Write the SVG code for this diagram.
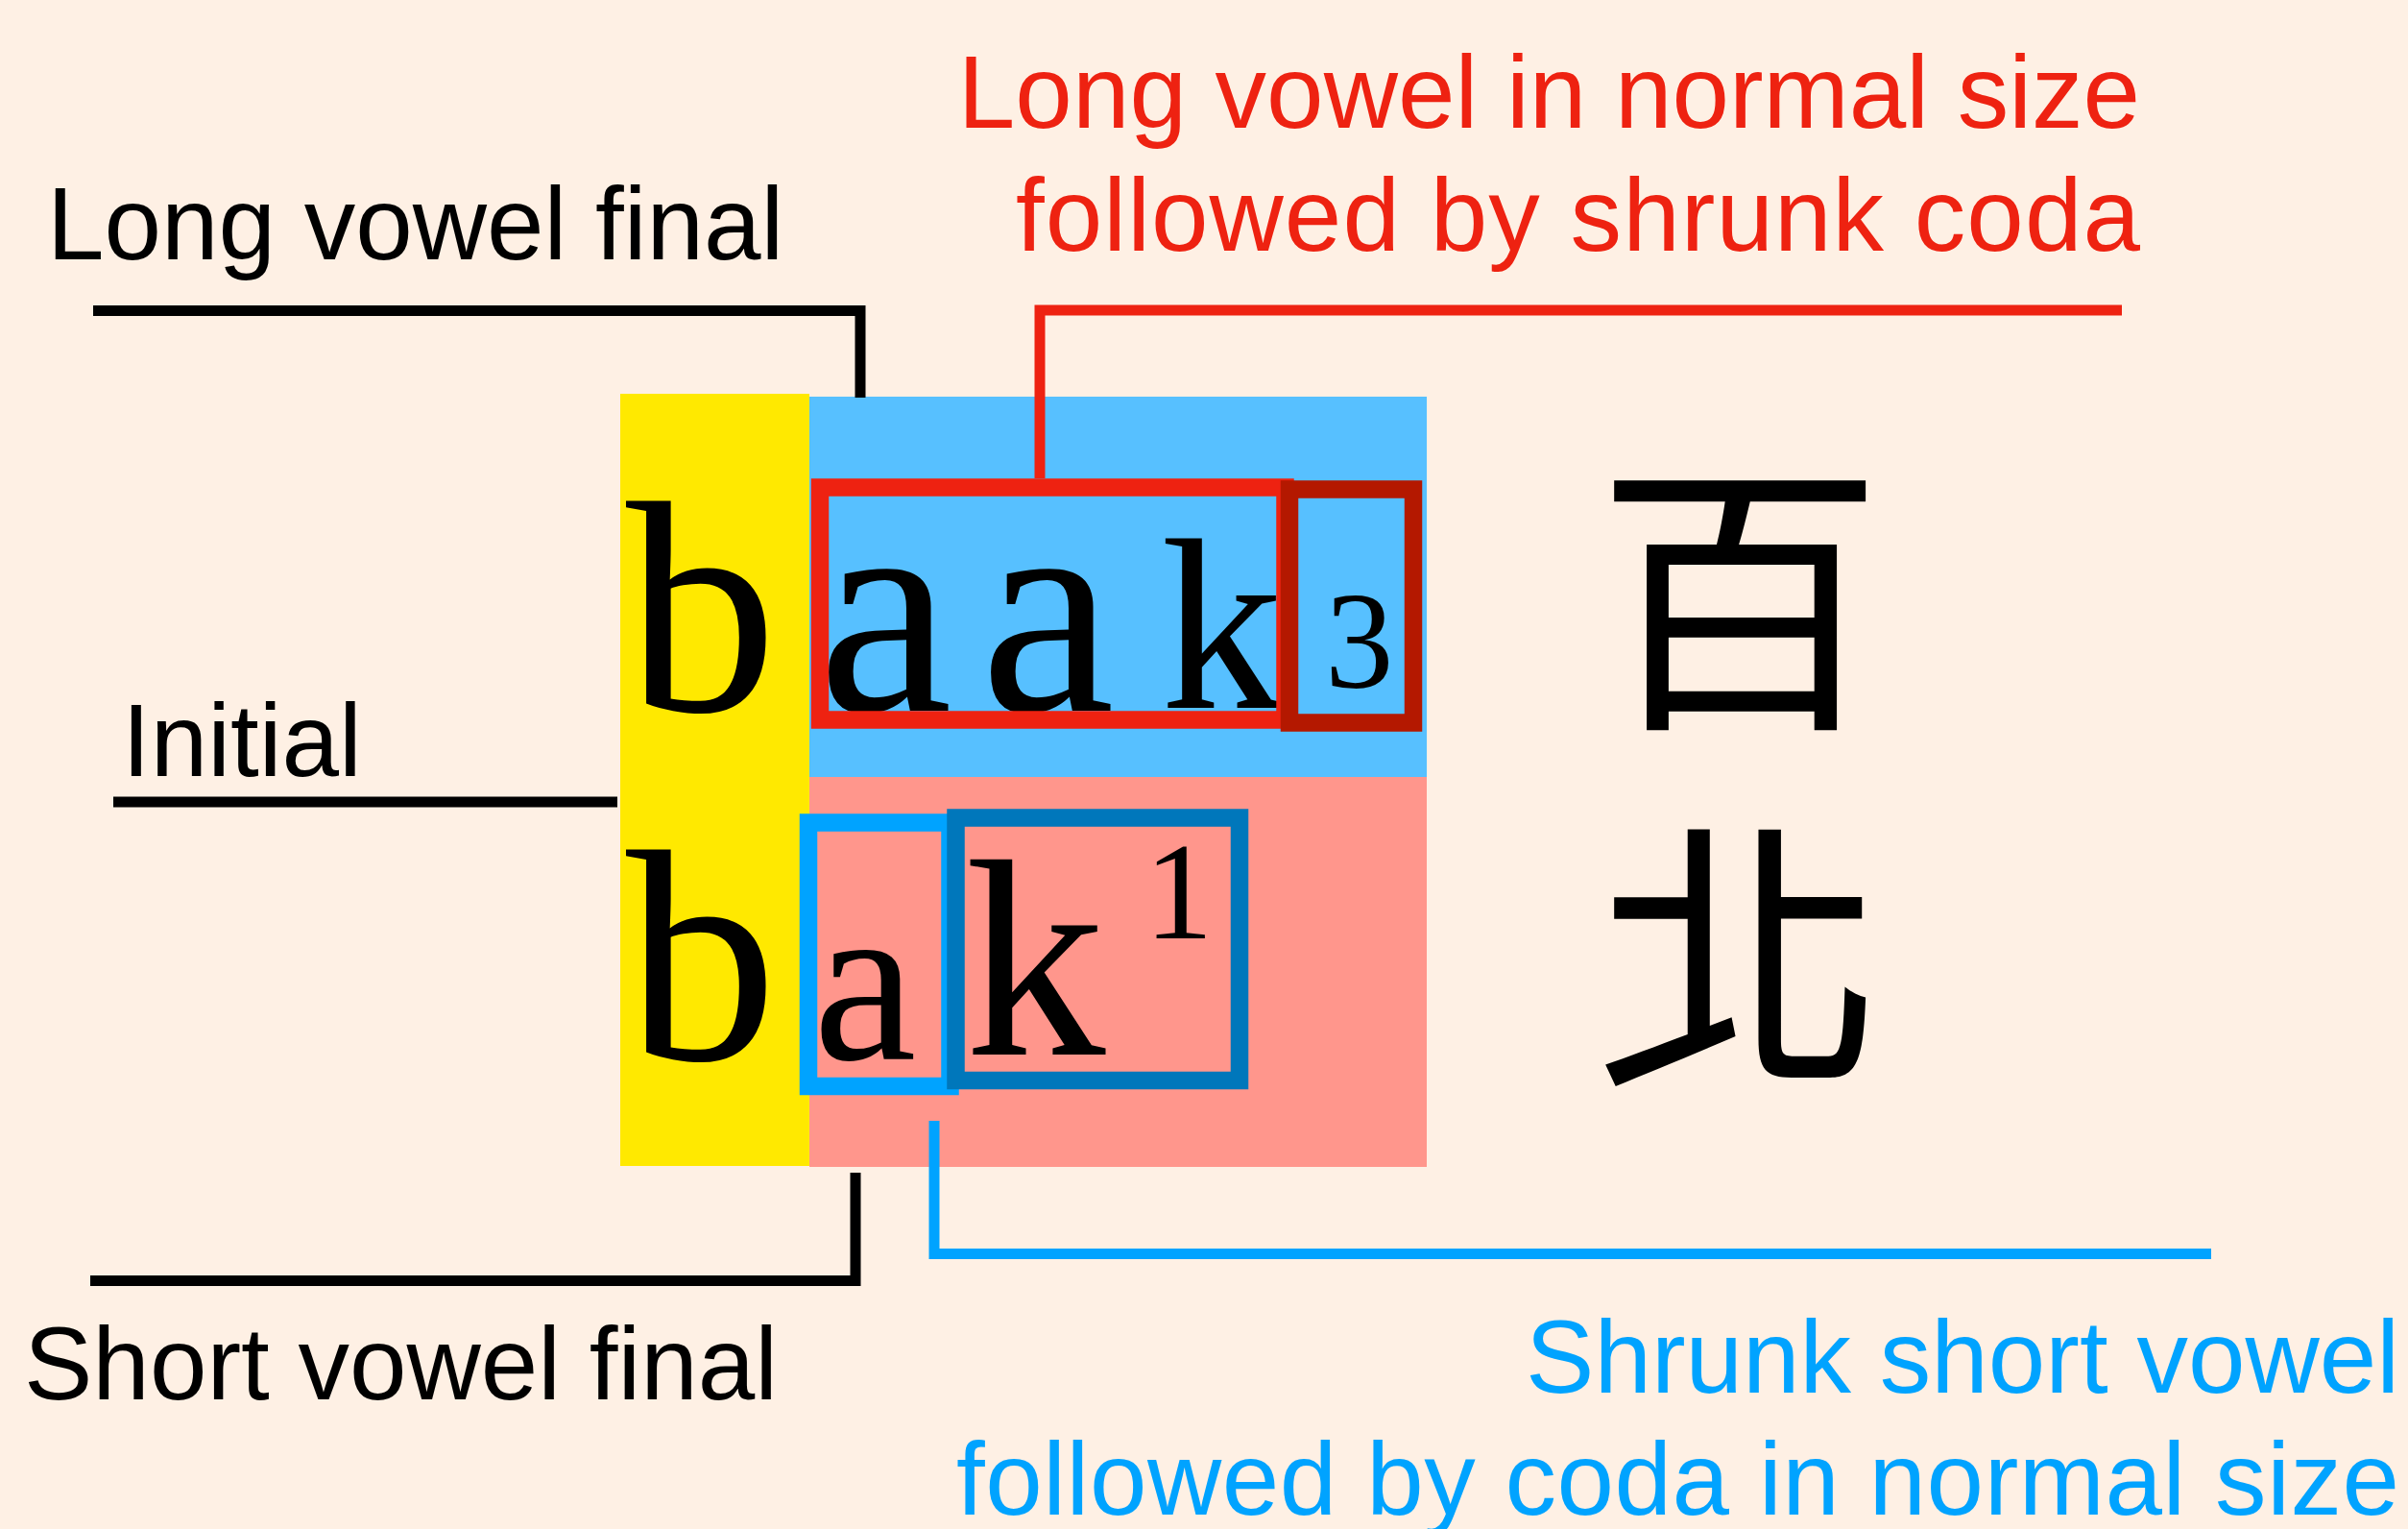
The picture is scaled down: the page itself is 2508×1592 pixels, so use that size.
<svg xmlns="http://www.w3.org/2000/svg" width="2508" height="1592" viewBox="0 0 2508 1592">
<style>
.lbl{font-family:"Liberation Sans",Arial,sans-serif;font-size:107px}
.gl{font-family:"Liberation Serif","Times New Roman",serif;fill:#000}
.cjk{font-family:"Noto Sans CJK TC","Noto Sans CJK KR",sans-serif;font-size:300px;fill:#000}
.box{fill:none;stroke-width:18.5}
.con{fill:none;stroke-width:11;stroke-linecap:butt;stroke-linejoin:miter}
</style>
<rect x="0" y="0" width="2508" height="1592" fill="#FEF0E4"/>
<g id="initial-column">
<rect x="646" y="410" width="197" height="804" fill="#FFE900"/>
<text class="gl" x="652" y="740" font-size="315">b</text>
<text class="gl" x="652" y="1103" font-size="315">b</text>
</g>
<g id="row-long">
<rect x="843" y="413" width="643" height="397" fill="#57C0FF"/>
<text class="gl" x="852" y="740" font-size="315">a</text>
<text class="gl" x="1021" y="740" font-size="315">a</text>
<text class="gl" x="1209" y="737" font-size="255">k</text>
<text class="gl" x="1380" y="716" font-size="143">3</text>
</g>
<g id="row-short">
<rect x="843" y="809" width="643" height="406" fill="#FF968C"/>
<text class="gl" x="847" y="1103" font-size="242">a</text>
<text class="gl" x="1005" y="1098" font-size="293">k</text>
<text class="gl" x="1192" y="977" font-size="143">1</text>
</g>
<g id="box-long-vowel"><rect class="box" x="854" y="507.5" width="484.5" height="242" stroke="#EE2211"/></g>
<g id="box-shrunk-coda"><rect class="box" x="1343" y="509.5" width="129" height="243" stroke="#B41800"/></g>
<g id="box-shrunk-vowel"><rect class="box" x="842" y="856.5" width="147.5" height="274.5" stroke="#00A3FF"/></g>
<g id="box-coda"><rect class="box" x="995.5" y="851.5" width="295.5" height="273.5" stroke="#0077BB"/></g>
<g id="char-baak">
<text class="cjk" x="1812" y="736" text-anchor="middle">百</text>
</g>
<g id="char-bak">
<text class="cjk" x="1812" y="1110" text-anchor="middle">北</text>
</g>
<g id="label-long-final"><text class="lbl" x="49" y="270" fill="#000">Long vowel final</text></g>
<g id="label-initial"><text class="lbl" x="127" y="808" fill="#000">Initial</text></g>
<g id="label-short-final"><text class="lbl" x="25" y="1457" fill="#000">Short vowel final</text></g>
<g id="label-long-normal">
<text class="lbl" x="2229" y="133" text-anchor="end" fill="#EE2211">Long vowel in normal size</text>
<text class="lbl" x="2229" y="261" text-anchor="end" fill="#EE2211" textLength="1171" lengthAdjust="spacing">followed by shrunk coda</text>
</g>
<g id="label-shrunk-short">
<text class="lbl" x="2499" y="1450" text-anchor="end" fill="#00A3FF">Shrunk short vowel</text>
<text class="lbl" x="2499" y="1577" text-anchor="end" fill="#00A3FF" textLength="1503" lengthAdjust="spacing">followed by coda in normal size</text>
</g>
<g id="connectors">
<polyline class="con" stroke="#000" points="97,323.5 896,323.5 896,414"/>
<polyline class="con" stroke="#000" points="118,835 643,835"/>
<polyline class="con" stroke="#000" points="94,1333.5 891,1333.5 891,1221"/>
<polyline class="con" stroke="#EE2211" points="2210,323 1083,323 1083,498"/>
<polyline class="con" stroke="#00A3FF" stroke-width="10" points="973,1167 973,1305.5 2303,1305.5"/>
</g>
</svg>
